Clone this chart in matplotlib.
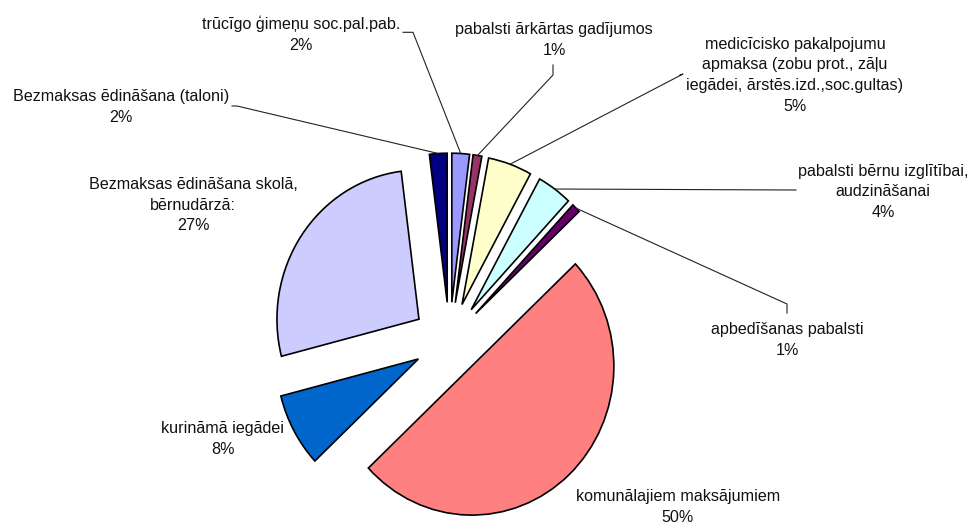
import numpy as np
import matplotlib
matplotlib.use("Agg")
import matplotlib.pyplot as plt

plt.rcParams['font.family'] = ['Liberation Sans', 'DejaVu Sans']

# pie data, clockwise from 12 o'clock
names = ["trūcīgo ģimeņu soc.pal.pab.",
         "pabalsti ārkārtas gadījumos",
         "medicīcisko pakalpojumu\napmaksa (zobu prot., zāļu\niegādei, ārstēs.izd.,soc.gultas)",
         "pabalsti bērnu izglītībai,\naudzināšanai",
         "apbedīšanas pabalsti",
         "komunālajiem maksājumiem",
         "kurināmā iegādei",
         "Bezmaksas ēdināšana skolā,\nbērnudārzā:",
         "Bezmaksas ēdināšana (taloni)"]
shares = [2, 1, 5, 4, 1, 50, 8, 27, 2]
colors = ["#9999FF", "#993366", "#FFFFCC", "#CCFFFF", "#660066",
          "#FF8080", "#0066CC", "#CCCCFF", "#000080"]
explode = [0.26, 0.26, 0.26, 0.26, 0.26, 0.23, 0.25, 0.26, 0.26]  # fraction of radius

# label block centres in pixels
label_pos = [(301, 34.5), (554, 39.7), (795, 75.3), (883, 192), (787, 340),
             (678, 506.7), (222.5, 439), (193, 205), (121, 107)]
# leader lines: pixel points from the label side, None = no line
leaders = [[(403, 32.3), (413, 32.3)],
           [(553, 65), (553, 75)],
           [(680, 75), (683, 74)],
           [(796, 190)],
           [(787, 313), (787, 304)],
           None, None, None,
           [(232, 106), (237, 106)]]

W, H = 968, 523
SY = 1.05  # slight vertical stretch of the original pie
R = 142


def px(x, y):
    return x, (H - y) / SY


fig = plt.figure(figsize=(W / 100, H / 100), dpi=100)
ax = fig.add_axes([0, 0, 1, 1])

wedges, _ = ax.pie(shares, colors=colors, explode=[e * R for e in explode],
                   radius=R, center=px(449.5, 341), startangle=90,
                   counterclock=False,
                   wedgeprops=dict(edgecolor="black", linewidth=1.2))

ax.set_aspect('auto')
ax.set_xlim(0, W)
ax.set_ylim(0, H / SY)
ax.axis('off')

for i, w in enumerate(wedges):
    x, y = px(*label_pos[i])
    ax.text(x, y, f"{names[i]}\n{shares[i]}%", ha='center', va='center',
            fontsize=11.6, color='#111111', linespacing=1.48)
    if leaders[i] is None:
        continue
    mid = np.deg2rad((w.theta1 + w.theta2) / 2)
    ex = w.center[0] + w.r * np.cos(mid)
    ey = w.center[1] + w.r * np.sin(mid)
    pts = [px(*p) for p in leaders[i]] + [(ex, ey)]
    ax.plot([p[0] for p in pts], [p[1] for p in pts], color='#222222', lw=0.8)

fig.savefig("out.png", dpi=100)
